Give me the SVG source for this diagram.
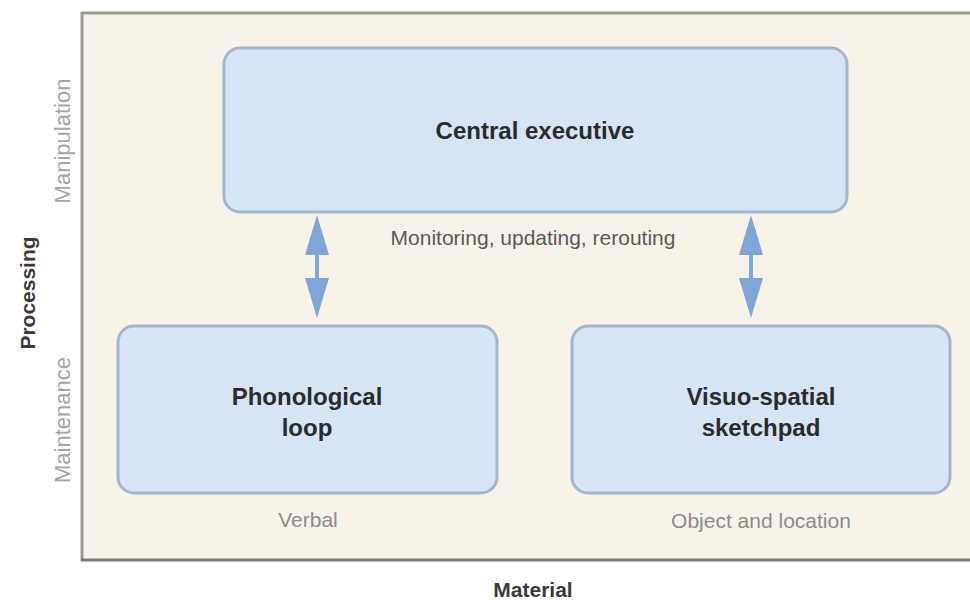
<svg xmlns="http://www.w3.org/2000/svg" width="970" height="603" viewBox="0 0 970 603">
<style>
  .box { fill: #d6e4f4; stroke: #a3b6ca; stroke-width: 3; }
  .title { font-family: "Liberation Sans", Arial, sans-serif; font-weight: bold; font-size: 24px; fill: #2b2b2b; text-anchor: middle; }
  .axis { font-family: "Liberation Sans", Arial, sans-serif; font-weight: bold; font-size: 21px; fill: #3a3a3a; text-anchor: middle; }
  .side { font-family: "Liberation Sans", Arial, sans-serif; font-size: 22px; fill: #a4a4a0; text-anchor: middle; }
  .note { font-family: "Liberation Sans", Arial, sans-serif; font-size: 21px; fill: #8c8c88; text-anchor: middle; }
  .mon { font-family: "Liberation Sans", Arial, sans-serif; font-size: 21px; fill: #5a5a58; text-anchor: middle; }
  .conn { stroke: #7ea6d8; stroke-width: 4; fill: none; }
</style>
<defs>
  <marker id="head" markerUnits="userSpaceOnUse" markerWidth="40" markerHeight="24" refX="15" refY="12" orient="auto-start-reverse">
    <path d="M0,0 L40,12 L0,24 Z" fill="#7ea6d8"/>
  </marker>
</defs>
<rect x="0" y="0" width="970" height="603" fill="#ffffff"/>
<g id="frame">
  <rect x="82" y="13" width="890" height="547" fill="#f7f3e8"/>
  <line x1="82" y1="13" x2="970" y2="13" stroke="#9c9a92" stroke-width="3"/>
  <line x1="82" y1="12" x2="82" y2="561" stroke="#9c9a92" stroke-width="3"/>
  <line x1="81" y1="560" x2="970" y2="560" stroke="#7b7a70" stroke-width="3"/>
</g>
<g id="axis-labels">
  <text class="axis" transform="translate(35,293) rotate(-90)">Processing</text>
  <text class="axis" x="533" y="597">Material</text>
  <text class="side" transform="translate(70,141) rotate(-90)">Manipulation</text>
  <text class="side" transform="translate(70,420) rotate(-90)">Maintenance</text>
</g>
<g id="central-executive">
  <rect class="box" x="224" y="48" width="623" height="164" rx="16" ry="16"/>
  <text class="title" x="535" y="139">Central executive</text>
</g>
<g id="phonological-loop">
  <rect class="box" x="118" y="326" width="379" height="167" rx="16" ry="16"/>
  <text class="title" x="307" y="405">Phonological</text>
  <text class="title" x="307" y="436">loop</text>
  <text class="note" x="308" y="527">Verbal</text>
</g>
<g id="visuo-spatial-sketchpad">
  <rect class="box" x="572" y="326" width="378" height="167" rx="16" ry="16"/>
  <text class="title" x="761" y="405">Visuo-spatial</text>
  <text class="title" x="761" y="436">sketchpad</text>
  <text class="note" x="761" y="528">Object and location</text>
</g>
<g id="connectors">
  <line class="conn" x1="317" y1="240" x2="317" y2="293" marker-start="url(#head)" marker-end="url(#head)"/>
  <line class="conn" x1="751" y1="240" x2="751" y2="293" marker-start="url(#head)" marker-end="url(#head)"/>
  <text class="mon" x="533" y="245">Monitoring, updating, rerouting</text>
</g>
</svg>
